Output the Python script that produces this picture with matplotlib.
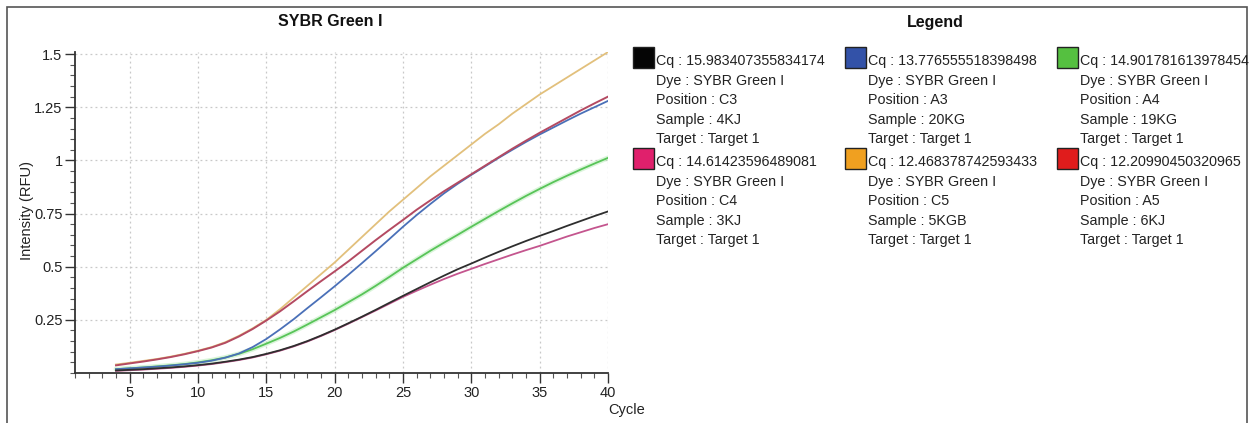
import matplotlib
matplotlib.use("Agg")
import matplotlib.pyplot as plt
from matplotlib.patches import Rectangle
from matplotlib.ticker import MultipleLocator, FormatStrFormatter

plt.rcParams['font.family'] = ['Liberation Sans', 'DejaVu Sans']

# amplification curves, one value per cycle (4..40)
cycles = list(range(4, 41))

black_c3 = [0.012, 0.015, 0.018, 0.022, 0.026, 0.031, 0.037, 0.044, 0.053, 0.063,
            0.075, 0.090, 0.107, 0.127, 0.150, 0.176, 0.204, 0.234, 0.265, 0.297,
            0.330, 0.363, 0.395, 0.427, 0.458, 0.488, 0.515, 0.543, 0.570, 0.596,
            0.621, 0.645, 0.668, 0.692, 0.715, 0.738, 0.760]
blue_a3 = [0.018, 0.022, 0.026, 0.030, 0.035, 0.041, 0.048, 0.058, 0.072, 0.092,
           0.122, 0.160, 0.205, 0.253, 0.305, 0.356, 0.408, 0.462, 0.517, 0.573,
           0.630, 0.688, 0.743, 0.795, 0.845, 0.890, 0.932, 0.972, 1.012, 1.050,
           1.087, 1.122, 1.155, 1.188, 1.220, 1.250, 1.280]
green_a4 = [0.018, 0.022, 0.026, 0.031, 0.036, 0.042, 0.050, 0.060, 0.073, 0.090,
            0.112, 0.138, 0.165, 0.195, 0.228, 0.262, 0.296, 0.333, 0.370, 0.410,
            0.452, 0.495, 0.535, 0.575, 0.613, 0.650, 0.688, 0.725, 0.762, 0.798,
            0.833, 0.866, 0.898, 0.928, 0.957, 0.985, 1.012]
pink_c4 = [0.010, 0.013, 0.016, 0.020, 0.024, 0.029, 0.035, 0.042, 0.051, 0.061,
           0.073, 0.088, 0.105, 0.125, 0.148, 0.174, 0.202, 0.232, 0.263, 0.294,
           0.326, 0.358, 0.387, 0.415, 0.442, 0.467, 0.490, 0.513, 0.535, 0.557,
           0.578, 0.598, 0.620, 0.642, 0.662, 0.682, 0.700]
orange_c5 = [0.040, 0.048, 0.057, 0.066, 0.077, 0.090, 0.105, 0.122, 0.145, 0.175,
             0.210, 0.250, 0.300, 0.355, 0.410, 0.465, 0.520, 0.580, 0.640, 0.700,
             0.760, 0.815, 0.870, 0.925, 0.975, 1.025, 1.075, 1.125, 1.170, 1.220,
             1.265, 1.310, 1.350, 1.390, 1.430, 1.470, 1.510]
red_a5 = [0.036, 0.045, 0.054, 0.064, 0.075, 0.088, 0.103, 0.120, 0.142, 0.172,
          0.207, 0.247, 0.290, 0.337, 0.385, 0.432, 0.478, 0.525, 0.575, 0.625,
          0.673, 0.720, 0.768, 0.812, 0.855, 0.895, 0.935, 0.975, 1.015, 1.055,
          1.093, 1.130, 1.165, 1.200, 1.235, 1.268, 1.300]

# legend info, in legend order (row by row)
cq_values = ["15.983407355834174", "13.776555518398498", "14.901781613978454",
             "14.61423596489081", "12.468378742593433", "12.20990450320965"]
positions = ["C3", "A3", "A4", "C4", "C5", "A5"]
samples = ["4KJ", "20KG", "19KG", "3KJ", "5KGB", "6KJ"]
swatch_colors = ["#050505", "#3352a8", "#55c040", "#e0206c", "#f0a020", "#e01c1c"]

W, H = 1253, 423
fig = plt.figure(figsize=(W / 100, H / 100), dpi=100)

# thin frame around the picture
frame = Rectangle((7 / W, -0.05), 1240 / W, 1.05 - 7 / H, transform=fig.transFigure,
                  fill=False, edgecolor="#555555", lw=1.2, clip_on=False)
fig.patches.append(frame)

ax = fig.add_axes([75 / W, 50 / H, (608 - 75) / W, 321 / H])

ax.plot(cycles, orange_c5, color="#e2c07c", lw=1.3)
ax.plot(cycles, green_a4, color="#a5e6a5", lw=3.5, alpha=0.4, solid_capstyle="round")
ax.plot(cycles, green_a4, color="#58c458", lw=1.3)
ax.plot(cycles, blue_a3, color="#4a70b8", lw=1.3)
ax.plot(cycles, red_a5, color="#b44a62", lw=1.4)
ax.plot(cycles, pink_c4, color="#c4558e", lw=1.3)
ax.plot(cycles, black_c3, color="#2e2e2e", lw=1.3)

ax.set_xlim(1, 40)
ax.set_ylim(0, 1.51)
ax.xaxis.set_minor_locator(MultipleLocator(1))
ax.yaxis.set_minor_locator(MultipleLocator(0.05))
ax.yaxis.set_major_formatter(FormatStrFormatter("%g"))
ax.set_xticks([5, 10, 15, 20, 25, 30, 35, 40])
ax.set_yticks([0.25, 0.5, 0.75, 1, 1.25, 1.5])
ax.tick_params(which="major", direction="out", length=7, width=1, color="#333333",
               labelsize=10.5, labelcolor="#222222", pad=2)
ax.tick_params(which="minor", direction="out", length=3.5, width=0.8, color="#555555")
ax.grid(True, which="major", linestyle=(0, (1.5, 2.5)), color="#c8c8c8", lw=0.9)
for side in ["top", "right"]:
    ax.spines[side].set_visible(False)
for side in ["left", "bottom"]:
    ax.spines[side].set_color("#333333")
    ax.spines[side].set_linewidth(1.3)

fig.text(330 / W, 1 - 22 / H, "SYBR Green I", ha="center", va="center", fontsize=11.5,
         fontweight="bold", color="#111111")
fig.text(27 / W, 1 - 210 / H, "Intensity (RFU)", ha="center", va="center",
         rotation=90, fontsize=10.5, color="#222222")
fig.text(645 / W, 1 - 410 / H, "Cycle", ha="right", va="center", fontsize=10.5,
         color="#222222")

# legend panel
fig.text(935 / W, 1 - 22 / H, "Legend", ha="center", va="center", fontsize=11.5,
         fontweight="bold", color="#111111")
col_x = [633, 845, 1057]
row_y = [47, 148]
for i in range(6):
    x0 = col_x[i % 3]
    y0 = row_y[i // 3]
    sq = Rectangle((x0 / W, 1 - (y0 + 21) / H), 21 / W, 21 / H,
                   transform=fig.transFigure, facecolor=swatch_colors[i],
                   edgecolor="#222222", lw=1)
    fig.patches.append(sq)
    lines = ["Cq : " + cq_values[i], "Dye : SYBR Green I", "Position : " + positions[i],
             "Sample : " + samples[i], "Target : Target 1"]
    for j, txt in enumerate(lines):
        fig.text((x0 + 23) / W, 1 - (y0 + 14 + j * 19.6) / H, txt, ha="left",
                 va="center", fontsize=10.3, color="#222222")

fig.savefig("out.png", dpi=100)
